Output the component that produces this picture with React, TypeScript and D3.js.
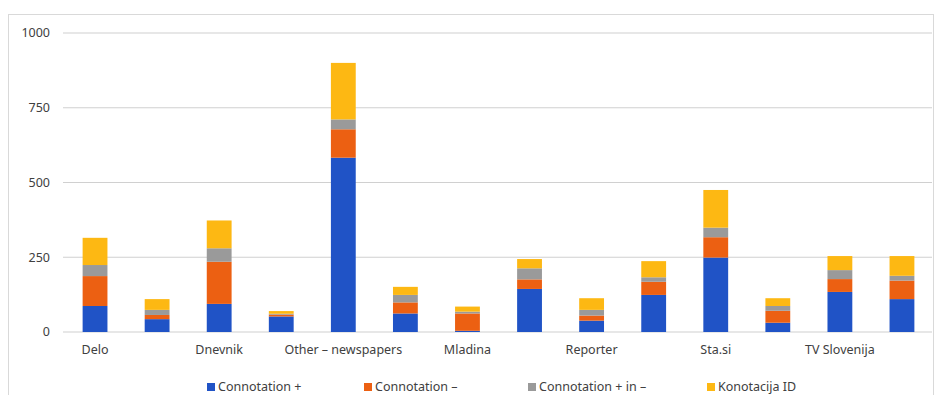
import React from "react";
import * as d3 from "d3";

const categories = ["Delo", "", "Dnevnik", "", "Other – newspapers", "", "Mladina", "", "Reporter", "", "Sta.si", "", "TV Slovenija", ""];
const seriesNames = ["Connotation +", "Connotation –", "Connotation + in –", "Konotacija ID"];
const connPlus = [87, 43, 94, 52, 583, 62, 4, 144, 38, 124, 249, 31, 134, 110];
const connMinus = [100, 14, 141, 6, 95, 37, 58, 32, 17, 44, 68, 40, 43, 62];
const connBoth = [37, 17, 45, 3, 33, 25, 6, 37, 19, 15, 32, 16, 30, 16];
const konotacijaID = [91, 36, 93, 9, 189, 27, 17, 31, 39, 54, 126, 26, 47, 66];
const yTicks = [0, 250, 500, 750, 1000];
const colors = ["#2053C6", "#EC6012", "#9A9A9A", "#FDB813"];

const W = 937;
const H = 395;
const left = 64;
const right = 933;
const top = 33;
const bottom = 332;
const font = "'Noto Sans', sans-serif";

export default function App() {
  const x = d3.scaleBand<number>().domain(d3.range(categories.length)).range([left, right]).paddingInner(0.6).paddingOuter(0.3);
  const y = d3.scaleLinear().domain([0, 1000]).range([bottom, top]);
  const table = categories.map((c, i) => ({ i, s0: connPlus[i], s1: connMinus[i], s2: connBoth[i], s3: konotacijaID[i] }));
  const stack = d3.stack<any>().keys(["s0", "s1", "s2", "s3"])(table);
  const legendX = [207, 364, 528, 707];
  return (
    <div style={{ position: "absolute", left: 0, top: 0 }}>
      <svg width={W} height={H} style={{ display: "block", background: "#fff" }}>
        <rect x={8.5} y={14.5} width={925} height={400} fill="none" stroke="#d9d9d9" />
        {yTicks.map((t) => (
          <g key={t}>
            <line x1={left - 1} x2={right - 1} y1={y(t)} y2={y(t)} stroke="#d0d0d0" strokeWidth={1.2} />
            <text x={50} y={y(t)} dy="0.35em" textAnchor="end" fontFamily={font} fontSize={12.5} fill="#404040">{t}</text>
          </g>
        ))}
        {stack.map((layer, si) => (
          <g key={si} fill={colors[si]}>
            {layer.map((d, i) => (
              <rect key={i} x={x(i)} width={x.bandwidth()} y={y(d[1])} height={y(d[0]) - y(d[1])} />
            ))}
          </g>
        ))}
        {categories.map((c, i) => c ? (
          <text key={i} x={(x(i) as number) + x.bandwidth() / 2} y={354} textAnchor="middle" fontFamily={font} fontSize={12.5} fill="#404040">{c}</text>
        ) : null)}
        {seriesNames.map((s, i) => (
          <g key={s}>
            <rect x={legendX[i]} y={383} width={8} height={8} fill={colors[i]} />
            <text x={legendX[i] + 11} y={387} dy="0.35em" fontFamily={font} fontSize={12.5} fill="#404040">{s}</text>
          </g>
        ))}
      </svg>
    </div>
  );
}
